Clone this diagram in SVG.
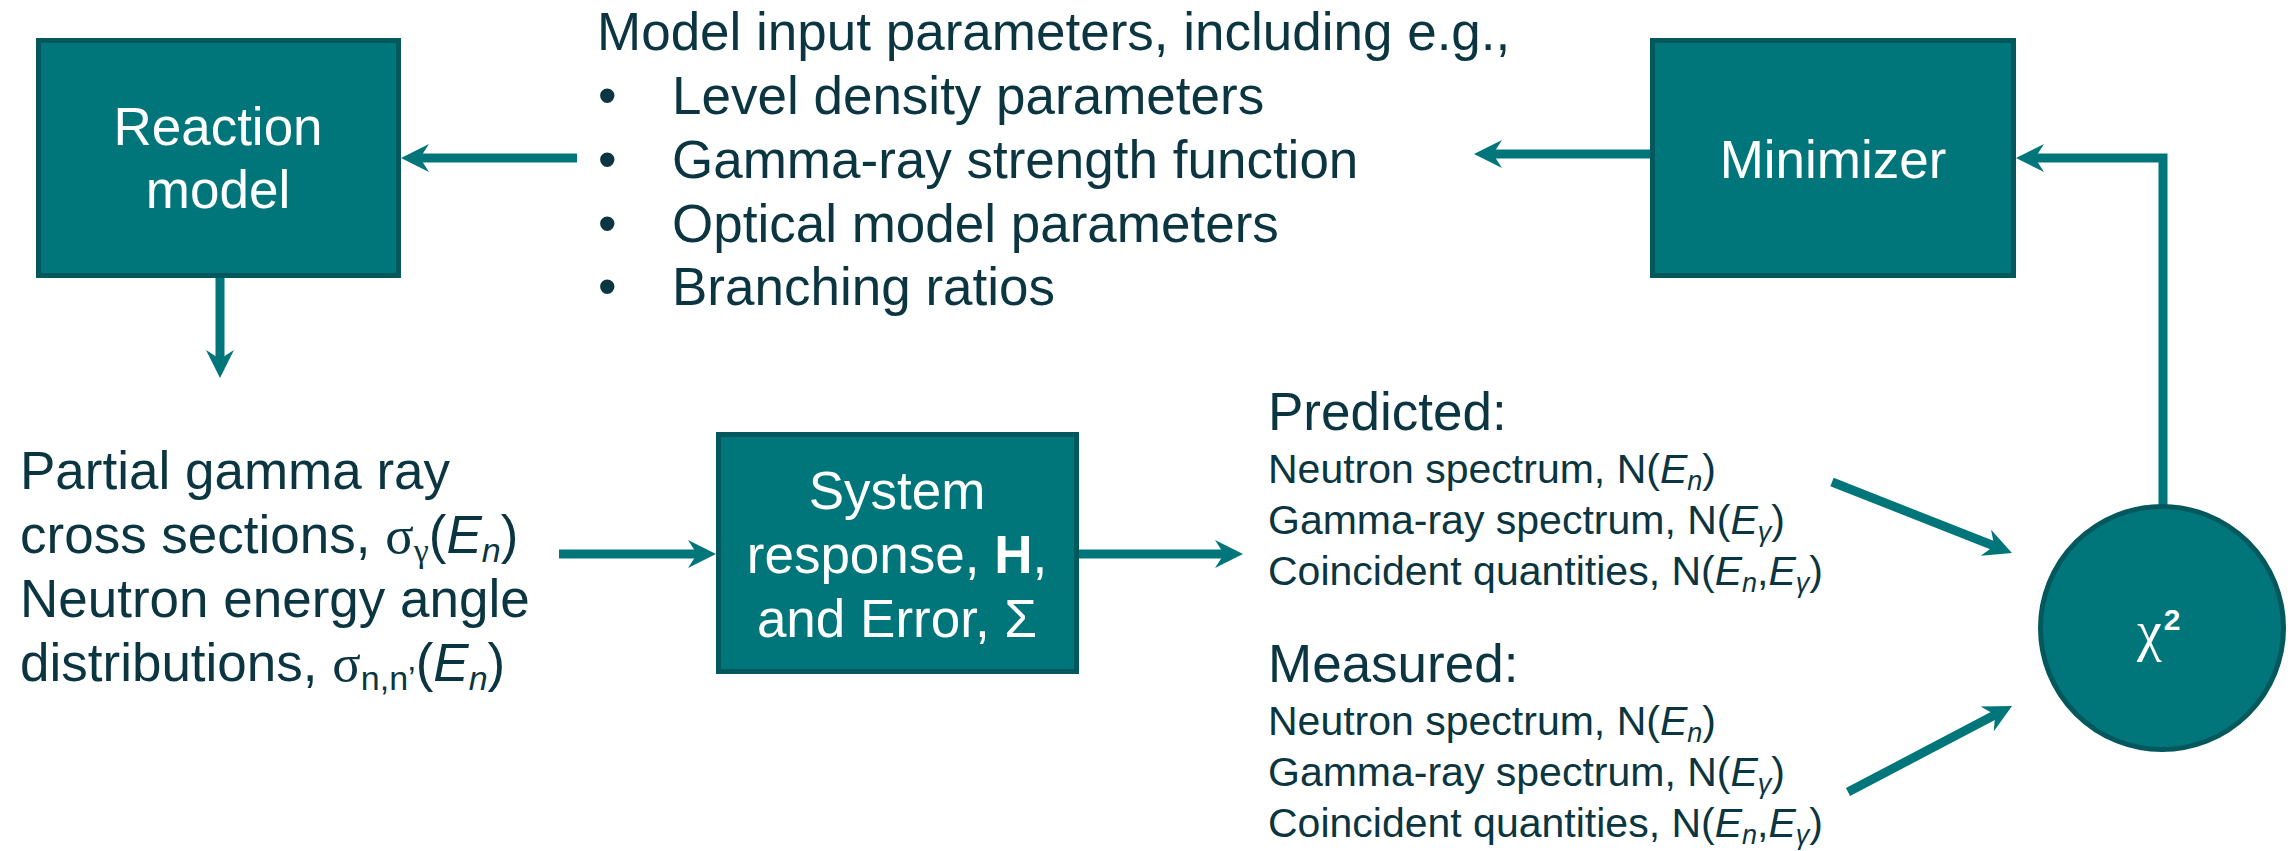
<svg xmlns="http://www.w3.org/2000/svg" width="2295" height="851" viewBox="0 0 2295 851">
<style>
.box{fill:#00767B;stroke:#02585C;stroke-width:5}
.wt{fill:#ffffff;font-family:"Liberation Sans",Arial,sans-serif;font-size:53px;text-anchor:middle}
.t{fill:#0B3540;font-family:"Liberation Sans",Arial,sans-serif;font-size:53px}
.s{fill:#0B3540;font-family:"Liberation Sans",Arial,sans-serif;font-size:41px}
.sf{font-family:"Liberation Serif","Times New Roman",serif}
.it{font-style:italic}
.con{fill:none;stroke:#00767B;stroke-width:9}
</style>
<defs>
<marker id="ah" markerUnits="userSpaceOnUse" viewBox="-28 -14 28 28" markerWidth="28" markerHeight="28" refX="-19" refY="0" orient="auto">
<path d="M0,0 L-28,-14 L-19,0 L-28,14 Z" fill="#00767B"/>
</marker>
</defs>
<rect width="2295" height="851" fill="#ffffff"/>

<g id="connectors">
<line class="con" x1="577" y1="158" x2="420" y2="158" marker-end="url(#ah)"/>
<line class="con" x1="220" y1="278" x2="220" y2="359" marker-end="url(#ah)"/>
<line class="con" x1="1650" y1="154" x2="1493" y2="154" marker-end="url(#ah)"/>
<path class="con" d="M2163,505 V158 H2035" marker-end="url(#ah)"/>
<line class="con" x1="559" y1="554" x2="697" y2="554" marker-end="url(#ah)"/>
<line class="con" x1="1079" y1="554" x2="1224" y2="554" marker-end="url(#ah)"/>
<line class="con" x1="1832" y1="482" x2="1994.3" y2="546" marker-end="url(#ah)"/>
<line class="con" x1="1848" y1="792" x2="1995.2" y2="714.8" marker-end="url(#ah)"/>
</g>

<g id="reaction-model">
<rect class="box" x="38.5" y="40.5" width="360" height="235"/>
<text class="wt" x="218" y="145">Reaction</text>
<text class="wt" x="218" y="208">model</text>
</g>

<g id="model-inputs">
<text class="t" x="597" y="50">Model input parameters, including e.g.,</text>
<text class="t" x="598" y="114">•</text>
<text class="t" x="672" y="114">Level density parameters</text>
<text class="t" x="598" y="178">•</text>
<text class="t" x="672" y="178">Gamma-ray strength function</text>
<text class="t" x="598" y="242">•</text>
<text class="t" x="672" y="242">Optical model parameters</text>
<text class="t" x="598" y="305">•</text>
<text class="t" x="672" y="305">Branching ratios</text>
</g>

<g id="minimizer">
<rect class="box" x="1652.5" y="40.5" width="361" height="235"/>
<text class="wt" x="1833" y="178">Minimizer</text>
</g>

<g id="cross-sections">
<text class="t" x="20" y="489">Partial gamma ray</text>
<text class="t" x="20" y="553">cross sections, <tspan class="sf">σ</tspan><tspan class="sf" font-size="34" dy="9">γ</tspan><tspan dy="-9">(</tspan><tspan class="it">E</tspan><tspan class="it" font-size="34" dy="9">n</tspan><tspan dy="-9">)</tspan></text>
<text class="t" x="20" y="617">Neutron energy angle</text>
<text class="t" x="20" y="681">distributions, <tspan class="sf">σ</tspan><tspan font-size="34" dy="9">n,n’</tspan><tspan dy="-9">(</tspan><tspan class="it">E</tspan><tspan class="it" font-size="34" dy="9">n</tspan><tspan dy="-9">)</tspan></text>
</g>

<g id="system-response">
<rect class="box" x="718.5" y="434.5" width="358" height="237"/>
<text class="wt" x="897" y="509">System</text>
<text class="wt" x="897" y="573">response, <tspan font-weight="bold">H</tspan>,</text>
<text class="wt" x="897" y="637">and Error, Σ</text>
</g>

<g id="predicted">
<text class="t" x="1268" y="430">Predicted:</text>
<text class="s" x="1268" y="483">Neutron spectrum, N(<tspan class="it">E</tspan><tspan class="it" font-size="27" dy="7">n</tspan><tspan dy="-7">)</tspan></text>
<text class="s" x="1268" y="534">Gamma-ray spectrum, N(<tspan class="it">E</tspan><tspan class="it" font-size="27" dy="7">γ</tspan><tspan dy="-7">)</tspan></text>
<text class="s" x="1268" y="585">Coincident quantities, N(<tspan class="it">E</tspan><tspan class="it" font-size="27" dy="7">n</tspan><tspan dy="-7">,</tspan><tspan class="it">E</tspan><tspan class="it" font-size="27" dy="7">γ</tspan><tspan dy="-7">)</tspan></text>
</g>

<g id="measured">
<text class="t" x="1268" y="682">Measured:</text>
<text class="s" x="1268" y="735">Neutron spectrum, N(<tspan class="it">E</tspan><tspan class="it" font-size="27" dy="7">n</tspan><tspan dy="-7">)</tspan></text>
<text class="s" x="1268" y="786">Gamma-ray spectrum, N(<tspan class="it">E</tspan><tspan class="it" font-size="27" dy="7">γ</tspan><tspan dy="-7">)</tspan></text>
<text class="s" x="1268" y="837">Coincident quantities, N(<tspan class="it">E</tspan><tspan class="it" font-size="27" dy="7">n</tspan><tspan dy="-7">,</tspan><tspan class="it">E</tspan><tspan class="it" font-size="27" dy="7">γ</tspan><tspan dy="-7">)</tspan></text>
</g>

<g id="chi-squared">
<circle cx="2162" cy="628" r="121.5" fill="#00767B" stroke="#02585C" stroke-width="5"/>
<text x="2137" y="650" fill="#ffffff" font-family="'Liberation Serif','Times New Roman',serif" font-size="56">χ<tspan font-family="'Liberation Sans',Arial,sans-serif" font-size="30" font-weight="bold" dx="2" dy="-20">2</tspan></text>
</g>
</svg>
